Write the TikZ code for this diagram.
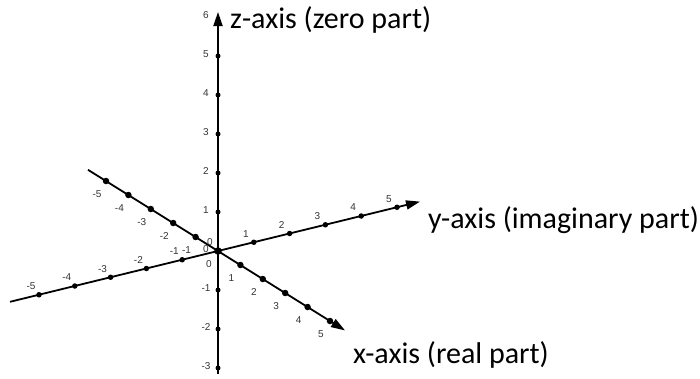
\documentclass[tikz,border=0pt]{standalone}
\usepackage{fontspec}
\setmainfont{Carlito}
\newfontfamily\ticksf{Liberation Sans}
\usetikzlibrary{arrows.meta}
\begin{document}
\begin{tikzpicture}[x=1pt,y=-1pt,
  axisline/.style={line width=1.8pt,-{Triangle[length=14pt,width=9pt]}},
  tickdot/.style={circle,fill=black,draw=none,inner sep=0pt,minimum size=#1},
  ticklbl/.style={font=\ticksf\fontsize{10}{10}\selectfont,inner sep=0pt,text=black!80},
  axislbl/.style={font=\fontsize{30}{30}\selectfont,anchor=base west,inner sep=0pt}]
\useasboundingbox (0,0) rectangle (700,378);
% origin and axis end points
\coordinate (O) at (218,251);
\coordinate (xs) at (88,169.8);
\coordinate (xe) at (345,330.4);
\coordinate (ys) at (10,301.8);
\coordinate (ye) at (420,201.6);
\coordinate (zs) at (218,374);
\coordinate (ze) at (218,12);
% axes
\draw[axisline] (zs) -- (ze);
\draw[axisline] (ys) -- (ye);
\draw[axisline] (xs) -- (xe);
% x-axis ticks
\foreach \i in {-5,...,5}{
  \node[tickdot=6.5pt] (xd\i) at (218+22.4*\i,251+14*\i) {};
  \node[ticklbl] (xl\i) at (218+22.4*\i-9,251+14*\i+13) {\i};
}
% y-axis ticks
\foreach \i in {-5,...,5}{
  \node[tickdot=5.5pt] (yd\i) at (218+35.8*\i,251-8.75*\i) {};
  \node[ticklbl] (yl\i) at (218+35.8*\i-8,251-8.75*\i-8.5) {\i};
}
% z-axis ticks
\foreach \i in {-3,...,5}{
  \node[tickdot=5pt] (zd\i) at (218,251-39*\i) {};
}
\foreach \i in {-3,...,6}{
  \node[ticklbl] (zl\i) at (206,251-39*\i-2) {\i};
}
\node[tickdot=7.5pt] (od) at (O) {};
% axis titles
\node[axislbl] (zlab) at (230,28) {z-axis (zero part)};
\node[axislbl] (ylab) at (428,228) {y-axis (imaginary part)};
\node[axislbl] (xlab) at (353,363) {x-axis (real part)};
\end{tikzpicture}
\end{document}
